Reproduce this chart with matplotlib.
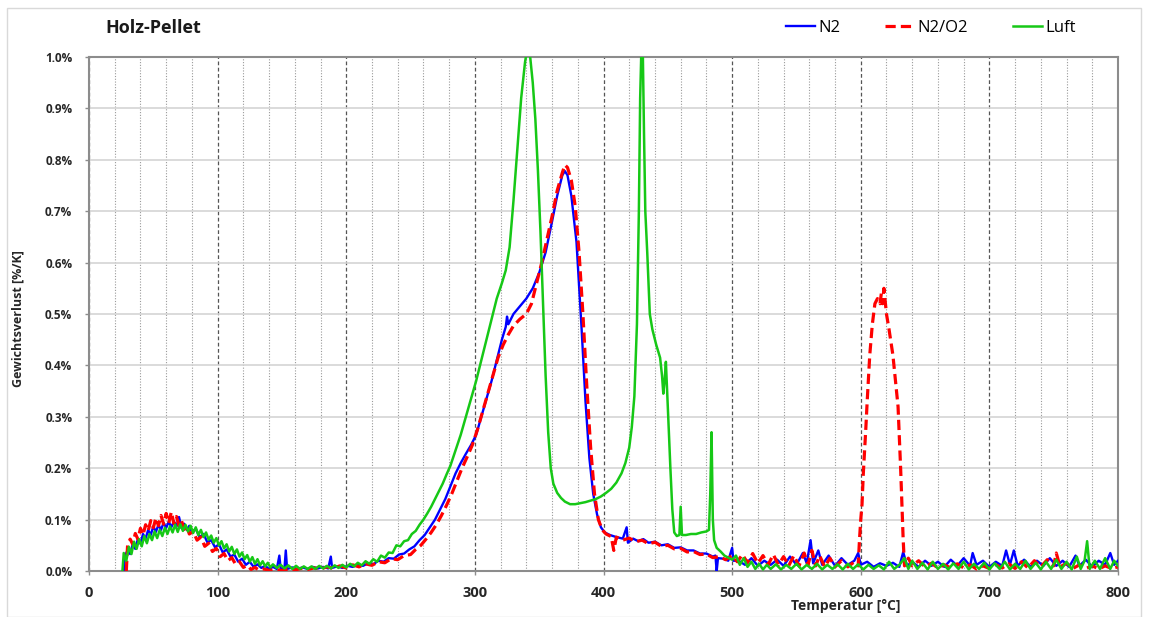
import numpy as np
import matplotlib
matplotlib.use('Agg')
import matplotlib.pyplot as plt
from matplotlib.ticker import MultipleLocator, FuncFormatter
from matplotlib.patches import Rectangle

plt.rcParams['font.family'] = ['Open Sans', 'DejaVu Sans']

# Holz-Pellet, Gewichtsverlust [%/K] over Temperatur [degC]
n2 = [
    (27, 0.0), (28, 0.03), (30, 0.04), (32, 0.033), (34, 0.052), (36, 0.043), (38, 0.062), (40, 0.053),
    (42, 0.072), (44, 0.063), (46, 0.08), (48, 0.07), (50, 0.087), (52, 0.076), (54, 0.09), (56, 0.08),
    (58, 0.094), (60, 0.084), (62, 0.096), (64, 0.085), (66, 0.097), (68, 0.086), (70, 0.105), (72, 0.083),
    (74, 0.092), (76, 0.08), (78, 0.088), (80, 0.076), (83, 0.082), (86, 0.066), (89, 0.072), (92, 0.056),
    (95, 0.06), (98, 0.046), (101, 0.052), (104, 0.036), (107, 0.042), (110, 0.028), (113, 0.032), (116, 0.018),
    (119, 0.024), (122, 0.012), (125, 0.018), (128, 0.008), (131, 0.013), (134, 0.006), (137, 0.01), (140, 0.004),
    (143, 0.008), (146, 0.004), (148, 0.03), (149, 0.004), (152, 0.006), (153, 0.04), (154, 0.004), (158, 0.007),
    (162, 0.004), (166, 0.007), (170, 0.004), (174, 0.008), (178, 0.005), (182, 0.008), (186, 0.005), (188, 0.028),
    (189, 0.006), (193, 0.009), (197, 0.006), (201, 0.01), (205, 0.008), (209, 0.012), (213, 0.01), (217, 0.015),
    (221, 0.013), (225, 0.02), (229, 0.018), (233, 0.025), (237, 0.024), (241, 0.032), (245, 0.034), (249, 0.042),
    (253, 0.048), (257, 0.06), (261, 0.07), (265, 0.085), (269, 0.1), (273, 0.12), (277, 0.14), (281, 0.165),
    (285, 0.19), (289, 0.21), (293, 0.228), (297, 0.245), (301, 0.265), (305, 0.3), (309, 0.335), (313, 0.37),
    (317, 0.41), (321, 0.45), (324, 0.475), (325, 0.495), (326, 0.48), (330, 0.5), (335, 0.515), (340, 0.53),
    (345, 0.55), (350, 0.58), (355, 0.62), (360, 0.68), (364, 0.73), (368, 0.77), (370, 0.778), (372, 0.77),
    (375, 0.73), (379, 0.64), (383, 0.47), (386, 0.33), (389, 0.22), (392, 0.15), (395, 0.11), (398, 0.085),
    (401, 0.075), (405, 0.07), (410, 0.066), (415, 0.063), (418, 0.085), (419, 0.055), (423, 0.063), (427, 0.058),
    (431, 0.062), (435, 0.055), (440, 0.057), (445, 0.05), (450, 0.052), (455, 0.045), (460, 0.046), (465, 0.04),
    (470, 0.04), (475, 0.034), (480, 0.034), (485, 0.028), (487, 0.03), (488, 0.0), (489, 0.025), (493, 0.024),
    (497, 0.02), (500, 0.045), (501, 0.02), (505, 0.02), (510, 0.012), (515, 0.025), (520, 0.01), (525, 0.02),
    (530, 0.012), (535, 0.022), (540, 0.01), (545, 0.028), (550, 0.012), (555, 0.035), (558, 0.015), (561, 0.06),
    (563, 0.015), (567, 0.04), (570, 0.012), (575, 0.03), (580, 0.01), (585, 0.025), (590, 0.012), (595, 0.02),
    (598, 0.035), (600, 0.012), (605, 0.018), (610, 0.008), (615, 0.015), (620, 0.01), (625, 0.016), (630, 0.008),
    (633, 0.037), (636, 0.01), (640, 0.018), (645, 0.008), (650, 0.02), (655, 0.01), (660, 0.018), (665, 0.008),
    (670, 0.022), (675, 0.01), (680, 0.025), (685, 0.01), (687, 0.035), (690, 0.012), (695, 0.02), (700, 0.008),
    (705, 0.018), (710, 0.01), (713, 0.04), (716, 0.012), (719, 0.04), (722, 0.01), (727, 0.022), (732, 0.008),
    (737, 0.02), (742, 0.01), (747, 0.025), (752, 0.01), (757, 0.02), (762, 0.008), (767, 0.03), (770, 0.01),
    (775, 0.022), (780, 0.008), (785, 0.02), (790, 0.012), (794, 0.035), (797, 0.012), (800, 0.02),
]

n2o2 = [
    (29, 0.0), (30, 0.05), (32, 0.062), (34, 0.052), (36, 0.073), (38, 0.062), (40, 0.083), (42, 0.07),
    (44, 0.09), (46, 0.078), (48, 0.098), (50, 0.084), (52, 0.103), (54, 0.088), (56, 0.108), (58, 0.091),
    (60, 0.112), (62, 0.093), (64, 0.115), (66, 0.092), (68, 0.106), (70, 0.088), (72, 0.097), (74, 0.081),
    (76, 0.087), (78, 0.072), (81, 0.077), (84, 0.06), (87, 0.066), (90, 0.048), (93, 0.054), (96, 0.038),
    (99, 0.044), (102, 0.028), (105, 0.034), (108, 0.02), (111, 0.026), (114, 0.013), (117, 0.018), (120, 0.007),
    (123, 0.011), (126, 0.003), (129, 0.007), (132, 0.002), (136, 0.004), (140, 0.001), (145, 0.003), (150, 0.001),
    (155, 0.004), (160, 0.002), (165, 0.005), (170, 0.003), (175, 0.006), (180, 0.004), (185, 0.008), (190, 0.005),
    (195, 0.01), (200, 0.006), (205, 0.012), (210, 0.008), (215, 0.014), (220, 0.011), (225, 0.018), (230, 0.016),
    (235, 0.024), (240, 0.022), (245, 0.03), (250, 0.032), (254, 0.042), (258, 0.05), (262, 0.062), (266, 0.075),
    (270, 0.09), (274, 0.108), (278, 0.128), (282, 0.15), (286, 0.175), (290, 0.2), (294, 0.222), (298, 0.245),
    (302, 0.275), (306, 0.31), (310, 0.345), (314, 0.38), (318, 0.415), (322, 0.44), (326, 0.46), (330, 0.477),
    (335, 0.49), (340, 0.5), (344, 0.52), (348, 0.56), (352, 0.6), (356, 0.645), (360, 0.69), (364, 0.74),
    (368, 0.775), (370, 0.79), (372, 0.785), (375, 0.76), (378, 0.71), (381, 0.62), (384, 0.5), (387, 0.36),
    (390, 0.24), (393, 0.15), (396, 0.1), (399, 0.08), (402, 0.072), (406, 0.067), (408, 0.04), (410, 0.066),
    (415, 0.06), (420, 0.064), (425, 0.057), (430, 0.06), (435, 0.053), (440, 0.056), (445, 0.048), (450, 0.05),
    (455, 0.043), (460, 0.044), (465, 0.037), (470, 0.038), (475, 0.032), (480, 0.033), (485, 0.026), (490, 0.028),
    (495, 0.022), (500, 0.03), (504, 0.018), (508, 0.032), (512, 0.016), (516, 0.034), (520, 0.015), (524, 0.03),
    (528, 0.012), (532, 0.032), (536, 0.012), (540, 0.028), (544, 0.01), (548, 0.03), (552, 0.01), (556, 0.035),
    (559, 0.012), (562, 0.04), (565, 0.01), (568, 0.03), (572, 0.008), (576, 0.025), (580, 0.008), (585, 0.02),
    (590, 0.008), (595, 0.018), (598, 0.01), (599, 0.06), (600, 0.1), (601, 0.13), (602, 0.19), (604, 0.28),
    (605, 0.33), (607, 0.42), (609, 0.48), (611, 0.52), (613, 0.53), (615, 0.52), (616, 0.54), (617, 0.52),
    (618, 0.55), (620, 0.5), (622, 0.47), (625, 0.42), (627, 0.37), (629, 0.32), (630, 0.26), (631, 0.2),
    (632, 0.13), (633, 0.06), (634, 0.01), (637, 0.025), (640, 0.01), (645, 0.02), (650, 0.008), (655, 0.015),
    (660, 0.006), (665, 0.012), (670, 0.006), (675, 0.014), (680, 0.006), (685, 0.012), (690, 0.004), (695, 0.01),
    (700, 0.005), (705, 0.012), (710, 0.006), (715, 0.014), (720, 0.005), (725, 0.018), (730, 0.006), (735, 0.02),
    (740, 0.008), (745, 0.022), (750, 0.01), (752, 0.035), (755, 0.008), (760, 0.015), (765, 0.005), (770, 0.012),
    (775, 0.005), (780, 0.01), (785, 0.004), (790, 0.01), (795, 0.005), (800, 0.008),
]

luft = [
    (26, 0.0), (27, 0.035), (29, 0.02), (31, 0.047), (33, 0.033), (35, 0.057), (37, 0.043), (39, 0.062),
    (41, 0.048), (43, 0.068), (45, 0.054), (47, 0.072), (49, 0.06), (51, 0.077), (53, 0.064), (55, 0.08),
    (57, 0.068), (59, 0.084), (61, 0.072), (63, 0.087), (65, 0.075), (67, 0.09), (69, 0.076), (71, 0.091),
    (73, 0.078), (75, 0.09), (77, 0.077), (79, 0.088), (81, 0.074), (83, 0.085), (85, 0.07), (87, 0.08),
    (89, 0.066), (91, 0.075), (93, 0.061), (95, 0.069), (97, 0.055), (99, 0.064), (101, 0.05), (103, 0.058),
    (105, 0.044), (107, 0.052), (109, 0.038), (111, 0.047), (113, 0.033), (115, 0.042), (117, 0.028), (119, 0.036),
    (121, 0.023), (123, 0.031), (125, 0.018), (127, 0.027), (129, 0.014), (131, 0.023), (133, 0.011), (135, 0.019),
    (137, 0.009), (139, 0.016), (141, 0.007), (143, 0.013), (146, 0.006), (149, 0.012), (152, 0.005), (155, 0.011),
    (158, 0.004), (161, 0.01), (164, 0.004), (167, 0.009), (170, 0.004), (173, 0.009), (176, 0.004), (179, 0.01),
    (182, 0.005), (185, 0.01), (188, 0.005), (191, 0.011), (194, 0.006), (197, 0.012), (200, 0.007), (203, 0.014),
    (206, 0.009), (209, 0.016), (212, 0.011), (215, 0.019), (218, 0.014), (221, 0.023), (224, 0.018), (227, 0.03),
    (230, 0.026), (233, 0.036), (236, 0.035), (239, 0.05), (242, 0.048), (245, 0.058), (248, 0.06), (251, 0.072),
    (254, 0.078), (257, 0.09), (260, 0.1), (263, 0.112), (266, 0.125), (269, 0.14), (272, 0.155), (275, 0.17),
    (278, 0.188), (281, 0.205), (285, 0.235), (289, 0.265), (293, 0.3), (297, 0.335), (301, 0.37), (305, 0.41),
    (309, 0.45), (313, 0.49), (317, 0.53), (321, 0.56), (324, 0.585), (327, 0.63), (330, 0.72), (333, 0.82),
    (336, 0.92), (339, 0.99), (341, 1.02), (343, 1.0), (345, 0.95), (347, 0.88), (349, 0.78), (351, 0.66),
    (353, 0.52), (355, 0.38), (357, 0.27), (359, 0.2), (361, 0.17), (364, 0.152), (367, 0.142), (370, 0.135),
    (374, 0.13), (378, 0.13), (382, 0.132), (386, 0.134), (390, 0.137), (394, 0.14), (398, 0.145), (402, 0.152),
    (406, 0.16), (410, 0.172), (414, 0.19), (417, 0.21), (420, 0.24), (422, 0.28), (424, 0.34), (426, 0.48),
    (427.5, 0.7), (428.5, 0.92), (429.5, 1.02), (430.5, 1.02), (431.5, 0.85), (432.5, 0.7), (434, 0.62), (436, 0.5),
    (438, 0.47), (441, 0.44), (444, 0.415), (445.5, 0.38), (446.5, 0.345), (447.5, 0.37), (448.5, 0.407), (449.5, 0.35),
    (451, 0.26), (452, 0.2), (453.5, 0.12), (455, 0.075), (457, 0.068), (459, 0.07), (460, 0.125), (461, 0.07),
    (464, 0.07), (468, 0.072), (472, 0.072), (476, 0.075), (480, 0.077), (482, 0.08), (483, 0.15), (484, 0.27),
    (485, 0.1), (486, 0.06), (488, 0.045), (491, 0.038), (494, 0.03), (497, 0.026), (500, 0.022), (503, 0.03),
    (506, 0.012), (509, 0.025), (512, 0.008), (515, 0.018), (518, 0.004), (521, 0.014), (524, 0.003), (527, 0.012),
    (530, 0.004), (534, 0.013), (538, 0.003), (542, 0.012), (546, 0.004), (550, 0.014), (554, 0.003), (558, 0.012),
    (562, 0.004), (566, 0.014), (570, 0.003), (574, 0.012), (578, 0.004), (582, 0.013), (586, 0.003), (590, 0.014),
    (594, 0.004), (598, 0.013), (602, 0.003), (606, 0.012), (610, 0.004), (614, 0.011), (618, 0.003), (622, 0.018),
    (626, 0.004), (630, 0.012), (634, 0.025), (637, 0.004), (640, 0.02), (644, 0.004), (648, 0.016), (652, 0.003),
    (656, 0.018), (660, 0.004), (664, 0.014), (668, 0.003), (672, 0.015), (676, 0.004), (680, 0.018), (684, 0.003),
    (688, 0.014), (692, 0.004), (696, 0.016), (700, 0.003), (704, 0.015), (708, 0.004), (712, 0.018), (716, 0.003),
    (720, 0.014), (724, 0.004), (728, 0.02), (732, 0.004), (736, 0.016), (740, 0.003), (744, 0.018), (748, 0.004),
    (752, 0.022), (756, 0.004), (760, 0.018), (764, 0.003), (768, 0.028), (771, 0.004), (774, 0.02), (776, 0.058),
    (778, 0.004), (782, 0.02), (786, 0.004), (790, 0.025), (794, 0.004), (797, 0.02), (800, 0.01),
]

fig = plt.figure(figsize=(11.5, 6.17), dpi=100)
fig.patches.append(Rectangle((7 / 1150, 0), 1134 / 1150, 1 - 8 / 617, transform=fig.transFigure,
                             fill=False, edgecolor='#d9d9d9', linewidth=1))
ax = fig.add_axes([89 / 1150, 1 - 571 / 617, 1029 / 1150, 514 / 617])

t, v = np.array(n2).T
ax.plot(t, v, color='#0000ff', lw=1.7, label='N2', zorder=3)
t, v = np.array(n2o2).T
ax.plot(t, v, color='#ff0000', lw=2.3, linestyle=(0, (3.2, 1.6)), label='N2/O2', zorder=4)
t, v = np.array(luft).T
ax.plot(t, v, color='#16c816', lw=1.8, label='Luft', zorder=5)

ax.set_xlim(0, 800)
ax.set_ylim(0, 1.0)
ax.xaxis.set_major_locator(MultipleLocator(100))
ax.xaxis.set_minor_locator(MultipleLocator(20))
ax.yaxis.set_major_locator(MultipleLocator(0.1))
ax.yaxis.set_major_formatter(FuncFormatter(lambda y, p: f'{y:.1f}%'))

ax.grid(which='major', axis='y', color='#d4d4d4', lw=1.2, linestyle='-')
ax.grid(which='minor', axis='x', color='#9a9a9a', lw=0.8, linestyle=(0, (1, 1.5)))
ax.grid(which='major', axis='x', color='#555555', lw=0.9, linestyle=(0, (3, 2)))
ax.set_axisbelow(True)

for s in ax.spines.values():
    s.set_color('#8c8c8c')
    s.set_linewidth(1.5)

ax.tick_params(axis='x', which='major', length=3, width=1, color='#8c8c8c', pad=8,
               labelsize=10.5, labelcolor='#262626')
ax.tick_params(axis='x', which='minor', length=0)
ax.tick_params(axis='y', length=3, width=1, color='#8c8c8c', pad=9, labelsize=8.5, labelcolor='#262626')
for lab in ax.get_xticklabels() + ax.get_yticklabels():
    lab.set_fontweight('bold')

fig.text(105 / 1150, 1 - 28 / 617, 'Holz-Pellet', fontsize=13, fontweight='bold', color='#1a1a1a',
         ha='left', va='center')
fig.text(846 / 1150, 1 - 606 / 617, 'Temperatur [°C]', fontsize=10, fontweight='bold', color='#262626',
         ha='center', va='center')
fig.text(18 / 1150, 1 - 319 / 617, 'Gewichtsverlust [%/K]', fontsize=9, fontweight='bold', color='#262626',
         ha='center', va='center', rotation=90)

fig.legend(loc='center', bbox_to_anchor=(931 / 1150, 1 - 28 / 617), ncol=3, frameon=False,
           fontsize=12, handlelength=1.75, handletextpad=0.2, columnspacing=2.7)

fig.savefig('out.png', dpi=100)
